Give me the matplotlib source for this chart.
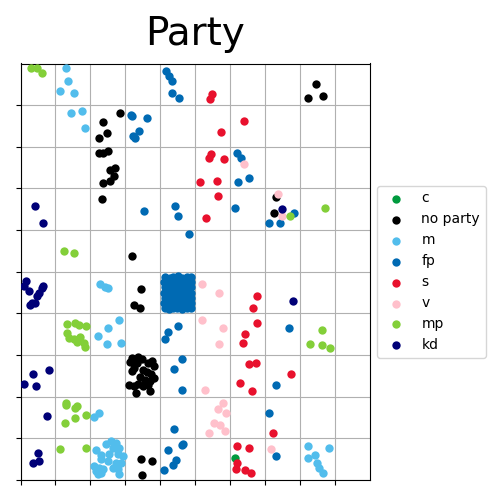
import matplotlib
matplotlib.use("Agg")
import matplotlib.pyplot as plt

title = "Party"
parties = ["c", "no party", "m", "fp", "s", "v", "mp", "kd"]
colors = ["#009a3e", "#000000", "#52bdec", "#006ab3", "#e8112d", "#ffc0cb", "#83cf39", "#000077"]

c_x = [6.15]
c_y = [0.52]

np_x = [2.86, 2.37, 2.48, 2.25, 2.25, 2.35, 2.51, 2.56, 2.71, 2.68, 2.37, 2.57, 2.34, 3.20,
        8.46, 8.23, 8.65, 7.31, 7.26, 3.44, 3.26, 3.43, 3.44, 3.77, 3.47,
        3.19, 3.36, 3.48, 3.13, 3.33, 3.18, 3.25, 3.65, 3.76, 3.82, 3.50, 3.62, 3.73, 3.82,
        3.42, 3.56, 3.71, 3.10, 3.25, 3.36, 3.50, 3.65, 3.31, 3.70]
np_y = [8.81, 8.59, 8.33, 8.22, 7.84, 7.84, 7.90, 7.44, 7.49, 7.31, 7.12, 7.17, 6.74, 5.37,
        9.50, 9.16, 9.21, 6.80, 6.40, 4.58, 4.20, 4.14, 0.50, 0.45, 0.11,
        2.93, 2.95, 2.90, 2.83, 2.81, 2.62, 2.69, 2.81, 2.86, 2.74, 2.64, 2.59, 2.54, 2.44,
        2.47, 2.40, 2.38, 2.27, 2.26, 2.30, 2.26, 2.28, 2.10, 2.14]

m_x = [1.29, 1.37, 1.14, 1.54, 1.45, 1.77, 1.84, 2.28, 2.43, 2.51, 2.23, 2.51, 2.83, 2.48, 2.87,
       2.10, 2.25, 8.23, 8.84, 8.23, 8.43, 8.48, 8.55, 8.66,
       2.16, 2.30, 2.45, 2.59, 2.73, 2.83, 2.64, 2.54, 2.78, 2.92, 2.30, 2.49, 2.73, 2.88,
       2.11, 2.25, 2.16, 2.35, 2.64, 2.78, 2.83, 2.30, 2.21]
m_y = [9.88, 9.57, 9.35, 9.30, 8.82, 8.87, 8.46, 4.70, 4.64, 4.61, 3.45, 3.66, 3.83, 3.26, 3.28,
       1.51, 1.62, 0.82, 0.76, 0.54, 0.59, 0.42, 0.28, 0.18,
       0.73, 0.61, 0.86, 0.93, 0.90, 0.78, 0.78, 0.62, 0.62, 0.58, 0.50, 0.46, 0.42, 0.42,
       0.34, 0.30, 0.22, 0.26, 0.30, 0.26, 0.14, 0.18, 0.14]

fp_x = [4.16, 4.26, 4.34, 4.34, 4.53, 3.15, 3.18, 3.62, 3.40, 3.22, 3.28, 3.54, 4.43, 4.50, 4.83,
        6.19, 6.32, 6.23, 6.55, 6.13, 7.83, 7.12, 7.43, 4.23, 4.52, 4.13, 4.63, 4.40, 4.63,
        4.39, 4.21, 4.61, 4.66, 4.44, 4.37, 4.11, 7.69, 7.32, 7.12, 7.32,
        4.13, 4.27, 4.36, 4.52, 4.61, 4.77, 4.88,
        4.11, 4.24, 4.39, 4.49, 4.63, 4.74, 4.89,
        4.14, 4.26, 4.37, 4.51, 4.64, 4.76, 4.87,
        4.12, 4.25, 4.38, 4.50, 4.62, 4.75, 4.88,
        4.13, 4.24, 4.37, 4.49, 4.63, 4.77, 4.89,
        4.11, 4.26, 4.38, 4.52, 4.61, 4.75, 4.87,
        4.14, 4.25, 4.36, 4.48, 4.63, 4.76, 4.88]
fp_y = [9.82, 9.71, 9.57, 9.30, 9.18, 8.77, 8.75, 8.68, 8.39, 8.25, 8.22, 6.45, 6.57, 6.35, 5.90,
        7.84, 7.72, 7.15, 7.24, 6.52, 6.42, 6.18, 6.16, 3.55, 3.69, 3.38, 2.90, 2.66, 2.16,
        1.22, 0.71, 0.84, 0.86, 0.48, 0.36, 0.24, 3.66, 2.27, 1.62, 0.57,
        4.88, 4.86, 4.87, 4.89, 4.86, 4.88, 4.87,
        4.76, 4.74, 4.75, 4.77, 4.74, 4.76, 4.75,
        4.63, 4.61, 4.62, 4.64, 4.62, 4.61, 4.63,
        4.50, 4.49, 4.51, 4.50, 4.48, 4.50, 4.49,
        4.37, 4.38, 4.36, 4.38, 4.37, 4.36, 4.38,
        4.24, 4.25, 4.23, 4.25, 4.26, 4.24, 4.25,
        4.12, 4.11, 4.13, 4.12, 4.11, 4.13, 4.12]

s_x = [5.47, 5.41, 6.40, 5.75, 5.46, 5.40, 5.83, 5.14, 5.61, 5.66, 5.32, 6.78, 6.66, 6.78,
       6.41, 6.37, 6.55, 6.75, 6.29, 6.63, 7.75, 7.22, 6.19, 6.55, 6.19, 6.17, 6.41, 6.60]
s_y = [9.26, 9.14, 8.61, 8.35, 7.82, 7.74, 7.70, 7.15, 7.19, 6.83, 6.28, 4.41, 4.12, 3.76,
       3.50, 3.30, 2.78, 2.80, 2.34, 2.13, 2.54, 1.14, 0.82, 0.76, 0.42, 0.26, 0.23, 0.16]

v_x = [6.40, 7.38, 7.49, 5.20, 5.69, 5.20, 5.80, 5.69, 5.29, 5.80, 5.64, 5.89, 5.55, 5.72,
       5.40, 5.86, 7.18]
v_y = [7.58, 6.86, 6.35, 4.70, 4.50, 3.83, 3.66, 3.26, 2.15, 1.86, 1.70, 1.62, 1.38, 1.31,
       1.12, 1.17, 0.74]

mp_x = [0.30, 0.48, 0.62, 1.25, 1.54, 7.72, 8.72,
        1.32, 1.57, 1.67, 1.87, 1.34, 1.40, 1.53, 1.71, 1.63, 1.82, 1.84,
        1.30, 1.31, 1.62, 1.57, 1.26, 1.57, 1.87, 1.14, 1.88,
        8.64, 8.29, 8.64, 8.86]
mp_y = [9.88, 9.88, 9.76, 5.49, 5.45, 6.35, 6.54,
        3.74, 3.77, 3.72, 3.69, 3.54, 3.41, 3.38, 3.44, 3.32, 3.30, 3.20,
        1.86, 1.79, 1.78, 1.72, 1.38, 1.48, 1.55, 0.74, 0.78,
        3.59, 3.26, 3.23, 3.18]

kd_x = [0.42, 0.65, 0.16, 0.11, 0.25, 0.54, 0.65, 0.62, 0.46, 0.34, 0.26, 0.41,
        0.81, 0.35, 0.11, 0.43, 0.75, 0.51, 0.37, 0.52, 7.49, 7.79]
kd_y = [6.59, 6.16, 4.78, 4.66, 4.54, 4.49, 4.66, 4.60, 4.42, 4.24, 4.19, 4.25,
        2.63, 2.54, 2.30, 2.25, 1.53, 0.64, 0.40, 0.45, 6.50, 4.29]

series = [(c_x, c_y), (np_x, np_y), (m_x, m_y), (fp_x, fp_y),
          (s_x, s_y), (v_x, v_y), (mp_x, mp_y), (kd_x, kd_y)]

fig = plt.figure(figsize=(5, 5), dpi=100)
ax = fig.add_axes([0.041, 0.04, 0.699, 0.833])
for name, col, (xs, ys) in zip(parties, colors, series):
    ax.scatter(xs, ys, s=36, color=col, label=name, zorder=3, linewidths=0)

ax.set_xlim(0, 10)
ax.set_ylim(0, 10)
ax.set_xticks(range(10))
ax.set_yticks(range(10))
ax.set_xticklabels([])
ax.set_yticklabels([])
ax.grid(True, color="#b0b0b0", linewidth=0.8, zorder=0)
ax.set_axisbelow(True)
ax.set_title(title, fontsize=28, pad=13)
ax.legend(loc="center left", bbox_to_anchor=(1, 0.5))

fig.savefig("out.png", dpi=100)
